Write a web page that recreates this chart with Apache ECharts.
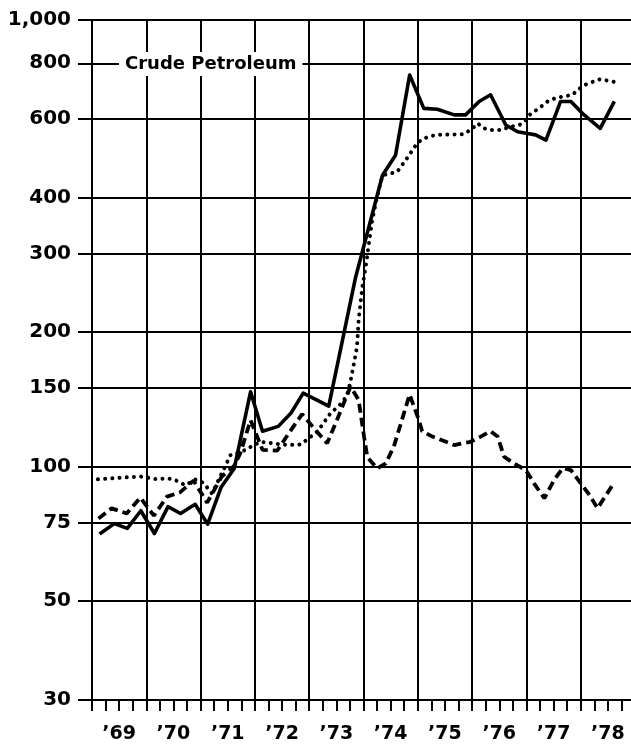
<!DOCTYPE html>
<html>
<head>
<meta charset="utf-8">
<script src="https://cdn.jsdelivr.net/npm/echarts@6/dist/echarts.min.js"></script>
<style>
  html, body { margin: 0; padding: 0; background: #fff; }
  #chart { width: 631px; height: 752px; }
</style>
</head>
<body>
<div id="chart"></div>
<script>
// year bands on the x axis, quarters come from the value axis
var years = ['’69', '’70', '’71', '’72', '’73', '’74', '’75', '’76', '’77', '’78'];
var yTicks = [30, 50, 75, 100, 150, 200, 300, 400, 600, 800, 1000];

// [year, index value]
var solid = [
  [1969.14, 70.6], [1969.41, 74.5], [1969.65, 72.7], [1969.90, 79.6],
  [1970.15, 70.8], [1970.40, 81.3], [1970.63, 78.5], [1970.90, 82.3],
  [1971.13, 74.3], [1971.38, 90], [1971.62, 99], [1971.92, 147],
  [1972.14, 120], [1972.43, 123], [1972.67, 132], [1972.89, 146],
  [1973.36, 136.5], [1973.85, 264], [1974.35, 449], [1974.59, 498],
  [1974.85, 753], [1975.11, 634], [1975.36, 631], [1975.67, 613],
  [1975.88, 613], [1976.13, 657], [1976.34, 680], [1976.62, 582],
  [1976.84, 562], [1977.02, 557], [1977.17, 553], [1977.36, 538],
  [1977.63, 657], [1977.82, 657], [1978.03, 618], [1978.36, 572],
  [1978.62, 657]
];
var dashed = [
  [1969.12, 76.5], [1969.36, 80.6], [1969.64, 78.5], [1969.89, 85.2],
  [1970.14, 77.6], [1970.38, 85.6], [1970.62, 87.5], [1970.87, 93],
  [1971.12, 83], [1971.39, 95], [1971.61, 100], [1971.73, 107],
  [1971.92, 127], [1972.14, 109], [1972.41, 108.5], [1972.65, 120],
  [1972.87, 131], [1973.06, 123], [1973.33, 112.7], [1973.51, 127],
  [1973.76, 151], [1973.91, 141], [1974.01, 116.7], [1974.07, 105],
  [1974.25, 99], [1974.41, 101.6], [1974.56, 111], [1974.85, 145],
  [1975.02, 127], [1975.08, 120], [1975.27, 116.7], [1975.67, 111.7],
  [1975.97, 113.6], [1976.16, 116.7], [1976.34, 120], [1976.47, 116.7],
  [1976.59, 105.2], [1976.77, 101.6], [1976.99, 98.2], [1977.14, 91.7],
  [1977.33, 84.9], [1977.51, 93.3], [1977.67, 99.1], [1977.82, 98.2],
  [1978.00, 91.7], [1978.16, 86.4], [1978.31, 80.6], [1978.59, 91]
];
var dotted = [
  [1969.11, 93.6], [1969.42, 94.2], [1969.89, 95], [1970.20, 93.6],
  [1970.38, 94.2], [1970.53, 93.3], [1970.72, 90.8], [1970.90, 93.5],
  [1971.05, 92], [1971.21, 87], [1971.39, 96.5], [1971.55, 106],
  [1971.76, 108], [1972.10, 113.6], [1972.59, 111.7], [1972.84, 112],
  [1973.15, 119.7], [1973.39, 131.5], [1973.61, 139], [1973.70, 145],
  [1973.76, 155], [1973.88, 185], [1973.91, 213], [1973.98, 253],
  [1974.04, 280], [1974.16, 356], [1974.25, 402], [1974.35, 449],
  [1974.62, 457], [1974.78, 486], [1974.99, 530], [1975.11, 543],
  [1975.33, 553], [1975.85, 555], [1976.01, 572], [1976.10, 587],
  [1976.22, 572], [1976.34, 567], [1976.53, 567], [1976.71, 577],
  [1976.87, 582], [1976.99, 597], [1977.08, 617], [1977.23, 634],
  [1977.39, 657], [1977.54, 669], [1977.85, 680], [1977.94, 697],
  [1978.07, 715], [1978.22, 727], [1978.36, 737], [1978.61, 727]
];

var font = 'DejaVu Sans';
var ink = '#000';

var chart = echarts.init(document.getElementById('chart'));

var option = {
  animation: false,
  backgroundColor: '#fff',
  title: {
    text: 'Crude Petroleum',
    left: 119,
    top: 52,
    padding: [3, 6],
    backgroundColor: '#fff',
    textStyle: { fontFamily: font, fontWeight: 'bold', fontSize: 18, lineHeight: 18, color: ink }
  },
  grid: { left: 92, top: 20, width: 543, height: 680, containLabel: false, outerBoundsMode: 'none' },
  xAxis: [
    {
      type: 'category',
      data: years,
      boundaryGap: true,
      position: 'bottom',
      axisLine: { show: true, lineStyle: { color: ink, width: 2 } },
      axisTick: { show: false },
      axisLabel: { interval: 0, margin: 25, color: ink, fontFamily: font, fontWeight: 'bold', fontSize: 19 },
      splitLine: { show: true, interval: 0, lineStyle: { color: ink, width: 2 } }
    },
    {
      // quarter ticks + data scale
      type: 'value',
      min: 1969,
      max: 1979,
      interval: 0.25,
      position: 'bottom',
      axisLine: { show: false },
      axisTick: { show: true, length: 11, lineStyle: { color: ink, width: 2 } },
      axisLabel: { show: false },
      splitLine: { show: false }
    }
  ],
  yAxis: {
    type: 'log',
    logBase: 10,
    min: 30,
    max: 1000,
    axisLine: { show: true, lineStyle: { color: ink, width: 2 } },
    axisTick: { show: true, length: 14, customValues: yTicks, lineStyle: { color: ink, width: 2 } },
    axisLabel: {
      customValues: yTicks,
      margin: 21,
      color: ink,
      fontFamily: font,
      fontWeight: 'bold',
      fontSize: 20,
      formatter: function (v) {
        return Math.round(v).toLocaleString('en-US');
      }
    },
    splitLine: { show: true, lineStyle: { color: ink, width: 2 } }
  },
  series: [
    {
      name: 'solid',
      type: 'line',
      xAxisIndex: 1,
      data: solid,
      symbol: 'none',
      lineStyle: { color: ink, width: 3.6, join: 'round' }
    },
    {
      name: 'dashed',
      type: 'line',
      xAxisIndex: 1,
      data: dashed,
      symbol: 'none',
      lineStyle: { color: ink, width: 3.8, type: [9, 5] }
    },
    {
      name: 'dotted',
      type: 'line',
      xAxisIndex: 1,
      data: dotted,
      symbol: 'none',
      lineStyle: { color: ink, width: 4, type: [0.01, 7.2], cap: 'round' }
    }
  ]
};

chart.setOption(option);
</script>
</body>
</html>
